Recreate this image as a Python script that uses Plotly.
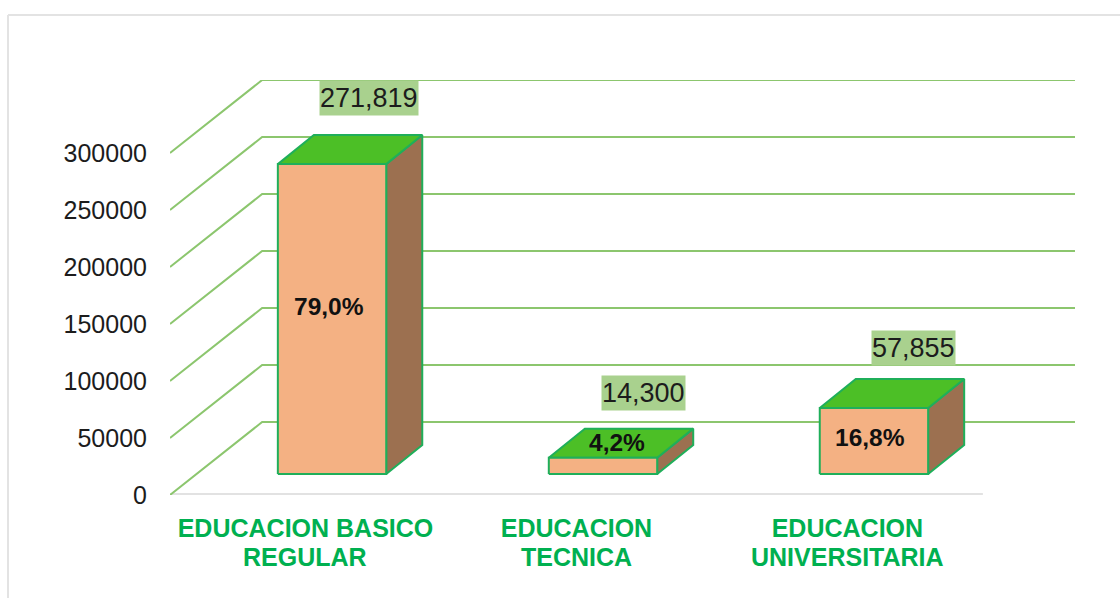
import plotly.graph_objects as go

categories_line1 = ["EDUCACION BASICO", "EDUCACION", "EDUCACION"]
categories_line2 = ["REGULAR", "TECNICA", "UNIVERSITARIA"]
values = [271819, 14300, 57855]
percents = ["79,0%", "4,2%", "16,8%"]
y_ticks = [0, 50000, 100000, 150000, 200000, 250000, 300000]

# pseudo-3D geometry, in axis units
WALL_DX, WALL_DY = 0.34, 64000
BAR_SHIFT, BAR_BASE = 0.098, 18400
BAR_HALF = 0.20
BAR_DX, BAR_DY = 0.133, 25500

FRONT, SIDE, TOP = "#F4B183", "#9C7050", "#4CBF26"
EDGE, GRID, LABEL_BG = "#1FAF5A", "#8CC66E", "#A9D18E"
CAT_COLOR = "#00B050"
TXT = "#1c1c1c"
FONT = "Liberation Sans"

W, H = 1120, 598
L, R, T, B = 170, 45, 80, 103
PW, PH = W - L - R, H - T - B

fig = go.Figure()

def poly(xs, ys, fill, line=EDGE, width=2):
    fig.add_trace(go.Scatter(x=xs + xs[:1], y=ys + ys[:1], mode="lines", fill="toself",
                             fillcolor=fill, line=dict(color=line, width=width),
                             hoverinfo="skip", showlegend=False, cliponaxis=False))

# floor
fig.add_trace(go.Scatter(x=[-0.5, 2.5], y=[0, 0], mode="lines", line=dict(color="#E2E2E2", width=4),
                         hoverinfo="skip", showlegend=False, cliponaxis=False))
# wall grid
for v in y_ticks:
    fig.add_trace(go.Scatter(x=[-0.5, -0.5 + WALL_DX, 2.5 + WALL_DX], y=[v, v + WALL_DY, v + WALL_DY],
                             mode="lines", line=dict(color=GRID, width=2),
                             hoverinfo="skip", showlegend=False, cliponaxis=False))

# bars
for i, v in enumerate(values):
    x0, x1 = i + BAR_SHIFT - BAR_HALF, i + BAR_SHIFT + BAR_HALF
    y0, y1 = BAR_BASE, BAR_BASE + v
    poly([x1, x1 + BAR_DX, x1 + BAR_DX, x1], [y0, y0 + BAR_DY, y1 + BAR_DY, y1], SIDE)
    poly([x0, x1, x1 + BAR_DX, x0 + BAR_DX], [y1, y1, y1 + BAR_DY, y1 + BAR_DY], TOP)
    poly([x0, x1, x1, x0], [y0, y0, y1, y1], FRONT)

# data labels
val_shift = [(1, 37), (4, 36), (4, 31)]
pct_shift = [(-3, 13), (14, 15), (-4, 4)]
for i, v in enumerate(values):
    xc = i + BAR_SHIFT
    text = f"{v:,}"
    fig.add_annotation(x=xc + BAR_DX, y=BAR_BASE + v + BAR_DY, xref="x", yref="y", text=text,
                       showarrow=False, xshift=val_shift[i][0], yshift=val_shift[i][1],
                       bgcolor=LABEL_BG, borderpad=0, height=34,
                       font=dict(family=FONT, size=27, color=TXT))
    py = BAR_BASE + v if i == 1 else BAR_BASE + v / 2
    fig.add_annotation(x=xc, y=py, xref="x", yref="y", text=f"<b>{percents[i]}</b>",
                       showarrow=False, xshift=pct_shift[i][0], yshift=pct_shift[i][1],
                       font=dict(family=FONT, size=24.5, color="#111111"))
    # second line of the category label, tighter than the tick-label line height
    fig.add_annotation(x=i, y=0, xref="x", yref="y", text=f"<b>{categories_line2[i]}</b>",
                       showarrow=False, yshift=-62,
                       font=dict(family=FONT, size=25, color=CAT_COLOR))

# outer frame
px = lambda p: (p - L) / PW
py_ = lambda p: 1 - (p - T) / PH
fig.add_shape(type="line", xref="paper", yref="paper", x0=px(8), x1=px(1120), y0=py_(15), y1=py_(15),
              line=dict(color="#E3E3E3", width=2))
fig.add_shape(type="line", xref="paper", yref="paper", x0=px(8), x1=px(8), y0=py_(15), y1=py_(598),
              line=dict(color="#E3E3E3", width=2))

fig.update_layout(
    width=W, height=H, margin=dict(l=L, r=R, t=T, b=B),
    paper_bgcolor="white", plot_bgcolor="white", showlegend=False,
    xaxis=dict(range=[-0.5, 2.5 + WALL_DX], tickmode="array", tickvals=[0, 1, 2],
               ticktext=[f"<b>{c}</b>" for c in categories_line1],
               showgrid=False, zeroline=False, showline=False, ticks="outside", ticklen=11, tickcolor="rgba(0,0,0,0)",
               tickfont=dict(family=FONT, size=25, color=CAT_COLOR)),
    yaxis=dict(range=[0, 364000], tickmode="array", tickvals=y_ticks, ticktext=[str(t) for t in y_ticks],
               showgrid=False, zeroline=False, showline=False, ticks="outside", ticklen=17, tickcolor="rgba(0,0,0,0)",
               tickfont=dict(family=FONT, size=25, color=TXT)),
)

fig.write_html("out.html", config=dict(displayModeBar=False),
               post_script="document.body.style.margin='0';document.documentElement.style.overflow='hidden';")
